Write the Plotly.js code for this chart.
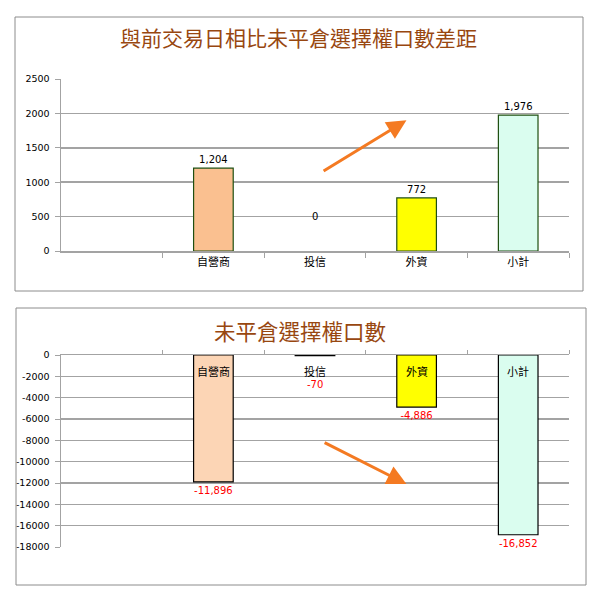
<!DOCTYPE html>
<html lang="zh-Hant">
  <head>
    <meta charset="UTF-8" />
    <title>未平倉選擇權口數</title>
    <script src="https://cdn.plot.ly/plotly-3.0.1.min.js"></script>
    <style>
      html, body { margin: 0; padding: 0; background: #ffffff; }
      #chart { width: 595px; height: 600px; }
    </style>
  </head>
  <body>
    <div id="chart"></div>
    <script>
      // categories shared by both panels
      const categories = ["自營商", "投信", "外資", "小計"];

      // top panel: change vs previous trading day
      const topTitle = "與前交易日相比未平倉選擇權口數差距";
      const diffValues = [1204, 0, 772, 1976];
      const diffColors = ["#fac090", "#ffffff", "#ffff00", "#dafdef"];
      const topTicks = [0, 500, 1000, 1500, 2000, 2500];

      // bottom panel: open interest
      const bottomTitle = "未平倉選擇權口數";
      const oiValues = [-11896, -70, -4886, -16852];
      const oiColors = ["#fcd5b5", "#ffffff", "#ffff00", "#dafdef"];
      const bottomTicks = [0, -2000, -4000, -6000, -8000, -10000, -12000, -14000, -16000, -18000];

      const W = 595, H = 600;
      const px = (x) => x / W;
      const py = (y) => 1 - y / H;

      const fmt = (v) => v.toLocaleString("en-US");
      const tickFont = { family: "DejaVu Sans", size: 9.5, color: "#000" };
      const grid = "#a3a3a3";

      const topTrace = {
        type: "bar",
        x: categories,
        y: diffValues,
        xaxis: "x",
        yaxis: "y",
        width: 0.39,
        marker: {
          color: diffColors,
          line: { color: "#1f4f10", width: diffValues.map((v) => (v === 0 ? 0 : 1.2)) },
        },
        text: diffValues.map((v) => (v === 0 ? "" : fmt(v))),
        textposition: "outside",
        constraintext: "none",
        cliponaxis: false,
        textfont: { family: "DejaVu Sans", size: 10, color: "#000" },
        hoverinfo: "x+y",
      };

      // short bars get their label through an annotation (below the category name)
      const isShort = (v) => Math.abs(v) < 1000;

      const bottomTrace = {
        type: "bar",
        x: categories,
        y: oiValues,
        xaxis: "x2",
        yaxis: "y2",
        width: 0.39,
        marker: { color: oiColors, line: { color: "#000", width: 1.2 } },
        text: oiValues.map((v) => (isShort(v) ? "" : fmt(v))),
        textposition: "outside",
        constraintext: "none",
        cliponaxis: false,
        textfont: { family: "DejaVu Sans", size: 10, color: "#ff0000" },
        hoverinfo: "x+y",
      };

      const annotations = [
        {
          text: topTitle, xref: "paper", yref: "paper",
          x: px(298), y: py(37), yanchor: "middle", showarrow: false,
          font: { family: "Noto Sans CJK TC", size: 21, color: "#984710" },
        },
        {
          text: bottomTitle, xref: "paper", yref: "paper",
          x: px(300), y: py(330), yanchor: "middle", showarrow: false,
          font: { family: "Noto Sans CJK TC", size: 21.5, color: "#984710" },
        },
        // zero label of 投信 sits up at the 500 line in the original
        {
          text: fmt(diffValues[1]), xref: "x", yref: "y",
          x: categories[1], y: 500, showarrow: false,
          font: { family: "DejaVu Sans", size: 10, color: "#000" },
        },
        // arrows
        {
          xref: "x", yref: "y", axref: "x", ayref: "y",
          x: 1.9, y: 1900, ax: 1.07, ay: 1150,
          showarrow: true, arrowhead: 2, arrowsize: 1.3, arrowwidth: 3,
          arrowcolor: "#f47a22", text: "",
        },
        {
          xref: "x2", yref: "y2", axref: "x2", ayref: "y2",
          x: 1.9, y: -12100, ax: 1.08, ay: -8150,
          showarrow: true, arrowhead: 2, arrowsize: 1.3, arrowwidth: 3,
          arrowcolor: "#f47a22", text: "",
        },
      ];

      // category names inside the bottom bars, just under the zero line
      categories.forEach((c) => {
        annotations.push({
          text: c, xref: "x2", yref: "y2", x: c, y: 0,
          yanchor: "top", yshift: -6, showarrow: false,
          font: { family: "Noto Sans CJK TC", size: 11, color: "#000" },
        });
      });

      oiValues.forEach((v, i) => {
        if (!isShort(v)) return;
        annotations.push({
          text: fmt(v), xref: "x2", yref: "y2", x: categories[i], y: v,
          yanchor: "top", yshift: -21, showarrow: false,
          font: { family: "DejaVu Sans", size: 10, color: "#ff0000" },
        });
      });

      const shapes = [
        {
          type: "rect", xref: "paper", yref: "paper",
          x0: px(15), x1: px(583), y0: py(291), y1: py(17),
          line: { color: "#8c8c8c", width: 1 },
        },
        {
          type: "rect", xref: "paper", yref: "paper",
          x0: px(16), x1: px(586), y0: py(585), y1: py(308),
          line: { color: "#8c8c8c", width: 1 },
        },
      ];

      const layout = {
        width: W,
        height: H,
        margin: { l: 0, r: 0, t: 0, b: 0 },
        paper_bgcolor: "#fff",
        plot_bgcolor: "#fff",
        showlegend: false,
        bargap: 0,
        xaxis: {
          domain: [px(61), px(569)],
          anchor: "y",
          type: "category",
          range: [-1.5, 3.5],
          showline: true, linecolor: grid, linewidth: 1.5,
          ticks: "outside", tickson: "boundaries", ticklen: 5, tickcolor: grid,
          tickfont: { family: "Noto Sans CJK TC", size: 11, color: "#000" },
          showgrid: false, zeroline: false, fixedrange: true,
        },
        yaxis: {
          domain: [py(251), py(79)],
          anchor: "x",
          range: [0, 2500],
          tickvals: topTicks,
          ticktext: topTicks.map(String),
          tickfont: tickFont,
          ticks: "outside", ticklen: 5, tickcolor: grid,
          ticklabelstandoff: 3,
          showline: true, linecolor: grid, linewidth: 1.5,
          showgrid: true, gridcolor: grid, gridwidth: 1.5,
          zeroline: false, fixedrange: true,
        },
        xaxis2: {
          domain: [px(61), px(569)],
          anchor: "y2",
          side: "top",
          type: "category",
          range: [-1.5, 3.5],
          showline: true, linecolor: grid, linewidth: 1.5,
          ticks: "outside", tickson: "boundaries", ticklen: 4, tickcolor: grid,
          showticklabels: false,
          showgrid: false, zeroline: false, fixedrange: true,
        },
        yaxis2: {
          domain: [py(547), py(355)],
          anchor: "x2",
          range: [-18000, 0],
          tickvals: bottomTicks,
          ticktext: bottomTicks.map(String),
          tickfont: tickFont,
          ticks: "outside", ticklen: 5, tickcolor: grid,
          ticklabelstandoff: 3,
          showline: true, linecolor: grid, linewidth: 1.5,
          showgrid: true, gridcolor: grid, gridwidth: 1.5,
          zeroline: false, fixedrange: true,
        },
        annotations: annotations,
        shapes: shapes,
      };

      Plotly.newPlot("chart", [topTrace, bottomTrace], layout, {
        displayModeBar: false,
        staticPlot: true,
      });
    </script>
  </body>
</html>
